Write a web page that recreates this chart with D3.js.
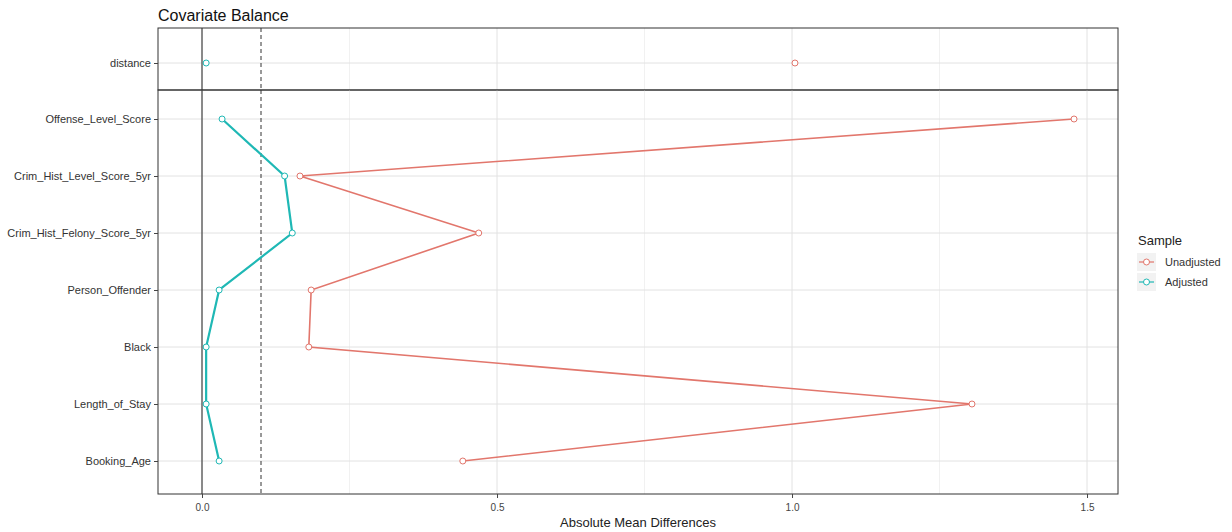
<!DOCTYPE html>
<html><head><meta charset="utf-8">
<script src="https://cdn.jsdelivr.net/npm/d3@7"></script>
<style>body{margin:0;background:#fff;font-family:"Liberation Sans",Arial,sans-serif;}</style>
</head><body>
<svg id="c" width="1232" height="532"></svg>
<script>
const topVars = ["distance"];
const vars = ["Offense_Level_Score","Crim_Hist_Level_Score_5yr","Crim_Hist_Felony_Score_5yr","Person_Offender","Black","Length_of_Stay","Booking_Age"];
const unadjTop = [1.005];
const adjTop = [0.007];
const unadj = [1.478,0.166,0.469,0.185,0.181,1.305,0.442];
const adj = [0.034,0.140,0.153,0.029,0.007,0.007,0.029];
const xTicks = [0,0.5,1.0,1.5];
const xMinor = [0.25,0.75,1.25];
const threshold = 0.1;
const seriesNames = ["Unadjusted","Adjusted"];
const colors = ["#E2766C","#1FB8B5"];

const svg = d3.select("#c");
const L = 158, R = 1118;
const x = d3.scaleLinear().domain([-0.0746, 1.5525]).range([L, R]);
const topP = {y0: 28, y1: 90};
const botP = {y0: 90, y1: 494};
const yTop = d3.scalePoint().domain(topVars).range([63, 63]);
const yBot = d3.scalePoint().domain(vars).range([119, 461]);

function panel(p, yScale, cats, uVals, aVals, adjWidth){
  const g = svg.append("g");
  // grid
  g.selectAll(".mi").data(xMinor).join("line").attr("x1",d=>x(d)).attr("x2",d=>x(d)).attr("y1",p.y0).attr("y2",p.y1).attr("stroke","#ececec").attr("stroke-width",0.8);
  g.selectAll(".ma").data(xTicks).join("line").attr("x1",d=>x(d)).attr("x2",d=>x(d)).attr("y1",p.y0).attr("y2",p.y1).attr("stroke","#e2e2e2").attr("stroke-width",1);
  g.selectAll(".hy").data(cats).join("line").attr("x1",L).attr("x2",R).attr("y1",d=>yScale(d)).attr("y2",d=>yScale(d)).attr("stroke","#e2e2e2").attr("stroke-width",1);
  // zero line and threshold
  g.append("line").attr("x1",x(0)).attr("x2",x(0)).attr("y1",p.y0).attr("y2",p.y1).attr("stroke","#222").attr("stroke-width",1);
  g.append("line").attr("x1",x(threshold)).attr("x2",x(threshold)).attr("y1",p.y0).attr("y2",p.y1).attr("stroke","#333").attr("stroke-width",1).attr("stroke-dasharray","4,3");
  // lines
  const line = d3.line().x(d=>x(d[0])).y(d=>yScale(d[1]));
  const uData = cats.map((c,i)=>[uVals[i],c]);
  const aData = cats.map((c,i)=>[aVals[i],c]);
  if (cats.length>1){
    g.append("path").attr("d",line(uData)).attr("fill","none").attr("stroke",colors[0]).attr("stroke-width",1.6);
    g.append("path").attr("d",line(aData)).attr("fill","none").attr("stroke",colors[1]).attr("stroke-width",adjWidth);
  }
  [uData,aData].forEach((dat,k)=>{
    g.selectAll(null).data(dat).join("circle").attr("cx",d=>x(d[0])).attr("cy",d=>yScale(d[1])).attr("r",3)
      .attr("fill","#fff").attr("stroke",colors[k]).attr("stroke-width",1);
  });
  // border
  g.append("rect").attr("x",L).attr("y",p.y0).attr("width",R-L).attr("height",p.y1-p.y0).attr("fill","none").attr("stroke","#333").attr("stroke-width",1);
  // y axis
  const ya = g.append("g").attr("transform",`translate(${L},0)`).call(d3.axisLeft(yScale).tickSize(4).tickPadding(3));
  ya.select(".domain").remove();
  ya.selectAll("line").attr("stroke","#444");
  ya.selectAll("text").attr("fill","#333").attr("font-size","11px").attr("font-family","Liberation Sans, Arial, sans-serif");
}
panel(topP, yTop, topVars, unadjTop, adjTop, 2);
panel(botP, yBot, vars, unadj, adj, 2.2);

// x axis
const xa = svg.append("g").attr("transform",`translate(0,${botP.y1})`).call(d3.axisBottom(x).tickValues(xTicks).tickFormat(d3.format(".1f")).tickSize(4).tickPadding(6));
xa.select(".domain").remove();
xa.selectAll("line").attr("stroke","#444");
xa.selectAll("text").attr("fill","#444").attr("font-size","10px").attr("font-family","Liberation Sans, Arial, sans-serif");

svg.append("text").attr("x",(L+R)/2).attr("y",527).attr("text-anchor","middle").attr("font-size","13px").attr("fill","#222").text("Absolute Mean Differences");
svg.append("text").attr("x",L).attr("y",21).attr("font-size","16px").attr("fill","#111").text("Covariate Balance");

// legend
const lg = svg.append("g").attr("transform","translate(1137,0)");
lg.append("text").attr("x",1).attr("y",245).attr("font-size","13px").attr("fill","#222").text("Sample");
seriesNames.forEach((s,i)=>{
  const cy = 262 + i*20;
  lg.append("rect").attr("x",0).attr("y",cy-9).attr("width",19).attr("height",18).attr("fill","#f2f2f2");
  lg.append("line").attr("x1",2).attr("x2",17).attr("y1",cy).attr("y2",cy).attr("stroke",colors[i]).attr("stroke-width",1.2);
  lg.append("circle").attr("cx",9.5).attr("cy",cy).attr("r",3).attr("fill","#fff").attr("stroke",colors[i]);
  lg.append("text").attr("x",28).attr("y",cy+4).attr("font-size","11px").attr("fill","#333").text(s);
});
</script>
</body></html>
